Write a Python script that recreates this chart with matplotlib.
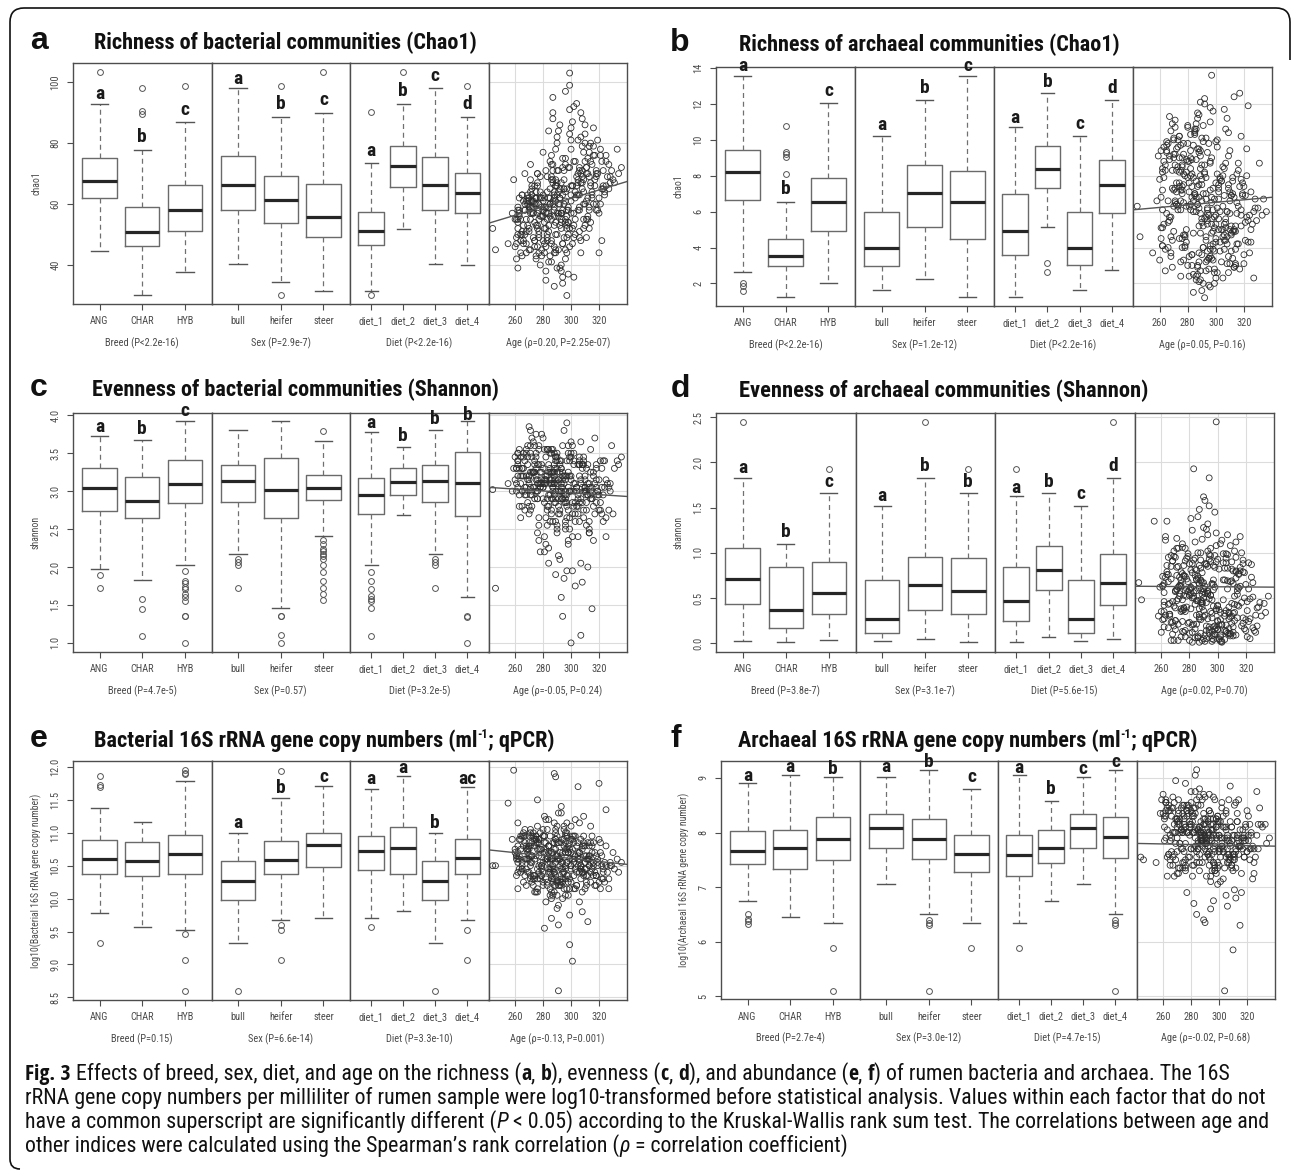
import os
import numpy as np
import matplotlib
matplotlib.use('Agg')
import matplotlib.pyplot as plt
from matplotlib import font_manager
from matplotlib.font_manager import FontProperties
from matplotlib.path import Path
from matplotlib.patches import PathPatch

W, H = 1292, 1170

# ------------------------------------------------------------------
# Dane
# ------------------------------------------------------------------
breeds = ['ANG', 'CHAR', 'HYB']
sexes = ['bull', 'heifer', 'steer']
diets = ['diet_1', 'diet_2', 'diet_3', 'diet_4']
age_ticks = [260, 280, 300, 320]
fit_x = [241, 340]

# wiek zwierzat (wspolny dla wszystkich paneli)
ages = [288, 301, 276, 295, 310, 283, 292, 268, 299, 285,
        304, 279, 290, 296, 272, 287, 308, 281, 294, 300,
        265, 289, 302, 277, 293, 284, 312, 297, 274, 291,
        306, 286, 280, 298, 316, 270, 294, 289, 303, 278,
        292, 261, 299, 285, 307, 282, 296, 275, 290, 314,
        283, 301, 288, 267, 295, 305, 279, 293, 318, 286,
        297, 273, 291, 309, 284, 300, 276, 288, 322, 294,
        281, 303, 262, 290, 298, 287, 311, 277, 295, 285,
        302, 289, 271, 296, 280, 306, 292, 259, 299, 284,
        313, 287, 294, 278, 301, 291, 269, 304, 286, 297,
        282, 325, 293, 288, 275, 300, 310, 283, 296, 290,
        305, 279, 298, 286, 264, 292, 315, 289, 281, 302,
        294, 274, 287, 308, 297, 283, 329, 291, 277, 299,
        246, 288, 303, 285, 320, 293, 271, 296, 282, 307,
        290, 333, 280, 298, 255, 287, 312, 244, 327, 336,
        266, 284, 309, 293, 277, 318, 289, 272, 301, 296,
        283, 262, 307, 290, 314, 280, 298, 269, 286, 305,
        292, 275, 321, 288, 300, 263, 295, 282, 311, 278,
        297, 287, 270, 303, 285, 324, 291, 276, 308, 293,
        279, 306, 289, 258, 296, 283, 317, 273, 299, 288,
        302, 271, 294, 286, 313, 281, 290, 267, 304, 298,
        285, 311, 277, 295, 289, 328, 274, 300, 282, 292,
        268, 299, 287, 316, 280, 293, 305, 286, 262, 301,
        294, 283, 309, 276, 290, 297, 271, 319, 288, 284,
        306, 278, 292, 300, 265, 287, 312, 281, 296, 331,
        289, 274, 302, 285, 296, 279, 308, 293, 270, 299,
        282, 315, 288, 260, 304, 291, 277, 297, 286, 310,
        298, 284, 272, 307, 290, 281, 294, 323, 276, 302,
        287, 303, 280, 295, 269, 313, 289, 284, 300, 278,
        293, 261, 305, 288, 282, 297, 275, 317, 291, 334,
        262, 318, 270, 325, 266, 312, 273, 309, 264, 321,
        315, 268, 306, 271, 327, 263, 311, 275, 319, 269,
        272, 308, 261, 323, 267, 314, 274, 330, 265, 310,
        320, 264, 313, 270, 305, 276, 326, 262, 316, 273,
        267, 311, 275, 318, 260, 307, 271, 322, 266, 313,
        309, 273, 324, 263, 314, 269, 306, 276, 328, 265,
        270, 317, 262, 310, 274, 321, 268, 312, 272, 308,
        319, 266, 307, 275, 325, 264, 315, 271, 310, 263,
        274, 313, 268, 320, 261, 309, 276, 316, 267, 323,
        311, 272, 318, 265, 306, 277, 314, 262, 322, 270]

# kolejnosc grup: ANG CHAR HYB bull heifer steer diet_1..diet_4
# [dolny wasik, Q1, mediana, Q3, gorny wasik]
a_box = [[44.5, 61.9, 67.6, 75.2, 92.8], [30.3, 46.1, 50.7, 59.0, 77.7], [37.8, 51.3, 58.1, 66.1, 86.9],
         [40.3, 57.9, 66.3, 75.7, 98.0], [34.4, 53.7, 61.4, 69.2, 88.7], [31.6, 49.2, 55.9, 66.5, 89.9],
         [31.6, 46.5, 51.3, 57.5, 73.6], [51.8, 65.5, 72.6, 79.2, 92.8], [40.3, 58.1, 66.3, 75.6, 98.0],
         [39.9, 57.2, 63.6, 70.1, 88.7]]
a_out = [[103.3], [98.0, 90.5, 89.7], [98.7], [], [98.7, 30.3], [103.3], [90.1, 30.3], [103.3], [], [98.7]]
a_let = ['a', 'b', 'c', 'a', 'b', 'c', 'a', 'b', 'c', 'd']
a_let_y = [96.0, 82.1, 91.0, 101.0, 92.8, 94.1, 77.4, 97.2, 102.0, 92.8]
a_vals = [58, 66, 52, 71, 74, 49, 62, 55, 83, 60,
          69, 45, 57, 64, 61, 73, 88, 54, 47, 78,
          63, 50, 92, 58, 67, 41, 70, 56, 66, 60,
          63, 76, 48, 59, 85, 51, 36, 68, 55, 62,
          53, 47, 72, 65, 44, 57, 97, 43, 80, 66,
          64, 52, 46, 70, 60, 81, 59, 38, 71, 55,
          65, 57, 71, 52, 84, 61, 67, 33, 48, 58,
          52, 74, 58, 63, 50, 88, 61, 49, 68, 43,
          57, 66, 45, 54, 77, 49, 62, 68, 103, 51,
          58, 60, 75, 40, 47, 56, 62, 93, 69, 30,
          71, 74, 55, 64, 53, 66, 80, 57, 42, 50,
          70, 62, 58, 48, 44, 86, 62, 54, 59, 36,
          63, 48, 90, 67, 53, 69, 71, 45, 60, 99,
          45, 59, 64, 56, 44, 52, 73, 61, 38, 82,
          67, 78, 63, 72, 47, 95, 55, 52, 65, 72,
          48, 62, 77, 57, 51, 69, 44, 59, 66, 73,
          55, 50, 70, 39, 80, 61, 54, 63, 47, 67,
          60, 42, 76, 53, 85, 58, 65, 35, 72, 56,
          49, 68, 52, 62, 74, 64, 57, 46, 79, 40,
          56, 71, 61, 57, 45, 50, 68, 59, 91, 63,
          53, 64, 47, 73, 59, 44, 82, 58, 66, 37,
          62, 70, 55, 49, 78, 69, 60, 57, 52, 65,
          51, 46, 67, 76, 58, 54, 63, 41, 55, 87,
          72, 48, 60, 53, 66, 44, 59, 70, 62, 57,
          58, 64, 39, 81, 50, 71, 62, 47, 55, 67,
          66, 54, 49, 60, 75, 43, 69, 57, 61, 52,
          46, 73, 56, 55, 63, 84, 50, 58, 68, 60,
          54, 59, 66, 48, 71, 62, 34, 66, 57, 74,
          61, 50, 56, 65, 60, 79, 45, 53, 63, 69,
          57, 49, 68, 44, 59, 52, 62, 76, 64, 70,
          52, 70, 58, 66, 47, 75, 61, 55, 50, 78,
          64, 44, 59, 68, 73, 56, 49, 62, 81, 53,
          57, 65, 42, 71, 60, 54, 48, 68, 63, 86,
          62, 55, 77, 45, 58, 66, 69, 39, 60, 57,
          50, 72, 64, 58, 46, 90, 55, 65, 61, 52,
          68, 49, 63, 57, 74, 61, 51, 70, 67, 43,
          59, 66, 54, 83, 62, 60, 47, 56, 65, 71,
          58, 53, 67, 60, 76, 48, 63, 57, 53, 62,
          46, 69, 61, 57, 55, 64, 70, 79, 58, 65,
          55, 63, 60, 51, 72, 44, 67, 59, 74, 62]
a_fit = [53.7, 67.4]

b_box = [[2.65, 6.64, 8.20, 9.42, 13.54], [1.22, 2.98, 3.52, 4.49, 6.56], [2.00, 4.91, 6.54, 7.90, 12.05],
         [1.63, 2.98, 4.00, 5.99, 10.24], [2.22, 5.12, 7.05, 8.58, 12.20], [1.22, 4.50, 6.54, 8.27, 13.54],
         [1.22, 3.56, 4.91, 6.99, 10.72], [5.15, 7.29, 8.40, 9.66, 12.63], [1.63, 3.02, 4.00, 5.99, 10.24],
         [2.74, 5.93, 7.47, 8.86, 12.20]]
b_out = [[2.04, 1.85, 1.59], [10.75, 9.33, 9.20, 9.05, 8.12], [], [], [], [], [], [3.11, 2.65], [], []]
b_let = ['a', 'b', 'c', 'a', 'b', 'c', 'a', 'b', 'c', 'd']
b_let_y = [14.1, 7.27, 12.7, 10.8, 12.9, 14.1, 11.2, 13.2, 10.9, 12.9]
b_vals = [6.2, 8.1, 4.5, 9.8, 3.1, 7.4, 5.6, 10.5, 2.8, 6.9,
          7.7, 5.0, 3.6, 8.8, 6.4, 11.2, 4.2, 7.1, 9.3, 2.3,
          5.9, 8.4, 6.7, 3.3, 10.1, 4.8, 7.9, 5.3, 9.0, 2.0,
          4.4, 6.8, 10.7, 3.9, 8.3, 7.2, 5.5, 12.1, 6.0, 4.1,
          8.6, 9.4, 2.6, 7.0, 5.1, 10.3, 3.5, 6.6, 7.8, 4.9,
          3.0, 9.6, 7.5, 5.7, 1.9, 8.0, 6.3, 4.6, 5.2, 8.9,
          6.5, 10.0, 4.0, 7.3, 2.5, 5.8, 8.5, 3.7, 9.5, 6.1,
          7.6, 4.3, 8.2, 5.4, 11.6, 2.9, 6.9, 9.2, 3.4, 7.0,
          5.0, 2.2, 6.6, 8.7, 10.8, 4.7, 1.2, 9.1, 3.8, 6.0,
          12.4, 7.4, 5.3, 4.0, 6.2, 9.9, 8.3, 3.2, 10.6, 5.6,
          8.0, 5.0, 2.7, 6.8, 9.7, 4.5, 7.1, 3.6, 11.0, 1.6,
          6.3, 8.9, 4.2, 7.7, 3.9, 12.0, 5.9, 9.4, 2.4, 7.3,
          3.3, 10.2, 6.4, 4.6, 13.6, 8.1, 5.5, 7.0, 9.8, 2.0,
          4.6, 5.2, 7.9, 10.4, 3.1, 6.7, 8.6, 1.8, 9.0, 4.4,
          7.5, 5.8, 3.0, 6.1, 3.7, 11.5, 4.9, 6.3, 2.3, 6.0,
          5.4, 7.9, 9.1, 3.2, 6.5, 10.2, 4.8, 8.3, 2.6, 7.2,
          6.8, 4.1, 8.7, 5.6, 3.9, 9.8, 7.3, 2.9, 10.9, 5.0,
          8.2, 6.1, 4.4, 11.4, 7.6, 5.3, 3.4, 9.4, 6.9, 4.7,
          9.0, 2.5, 6.3, 7.8, 10.5, 5.8, 4.0, 8.6, 3.1, 7.0,
          4.3, 8.4, 5.9, 6.6, 11.8, 3.6, 7.4, 9.6, 5.1, 2.1,
          7.1, 9.2, 3.8, 6.0, 4.9, 8.8, 10.1, 5.5, 7.7, 3.3,
          10.6, 5.2, 7.5, 2.8, 8.0, 6.2, 4.5, 9.9, 6.4, 12.3,
          3.7, 6.7, 9.5, 4.2, 7.9, 5.7, 8.5, 2.4, 6.1, 10.0,
          5.9, 8.9, 3.5, 7.2, 6.6, 4.8, 11.1, 7.6, 9.3, 1.5,
          6.9, 4.6, 8.1, 5.3, 9.7, 3.0, 7.0, 6.3, 4.1, 8.7,
          2.7, 7.4, 5.6, 10.3, 3.9, 8.2, 6.0, 4.4, 9.0, 5.7,
          8.4, 6.5, 3.2, 7.8, 5.0, 10.8, 4.7, 6.8, 2.2, 9.4,
          4.9, 9.7, 7.1, 5.4, 8.6, 3.5, 6.2, 11.9, 4.0, 7.5,
          6.4, 3.8, 8.8, 5.8, 7.3, 2.9, 9.1, 6.6, 4.3, 8.0,
          7.9, 5.1, 4.6, 9.5, 6.1, 3.4, 8.3, 12.6, 5.2, 6.7,
          5.1, 7.8, 9.2, 4.3, 6.6, 3.4, 8.5, 10.4, 2.7, 6.9,
          8.1, 5.7, 3.9, 7.3, 6.0, 9.6, 4.8, 2.4, 7.0, 10.9,
          6.4, 11.2, 4.5, 5.5, 8.9, 3.1, 7.6, 6.2, 9.9, 5.0,
          3.6, 8.3, 6.8, 10.0, 2.3, 7.4, 5.3, 4.1, 8.7, 6.1,
          9.1, 4.7, 7.2, 5.8, 3.3, 10.6, 6.5, 8.0, 4.0, 2.9,
          7.5, 6.3, 3.7, 8.8, 5.2, 4.4, 11.7, 7.0, 6.7, 9.3,
          4.9, 2.8, 8.4, 6.6, 10.2, 5.4, 3.5, 7.7, 9.5, 6.0,
          6.9, 9.8, 5.6, 3.2, 7.1, 8.6, 4.2, 10.7, 5.9, 7.9,
          8.2, 5.0, 4.6, 7.4, 6.8, 2.6, 9.0, 6.3, 11.3, 4.3,
          3.8, 7.6, 6.1, 9.4, 5.3, 8.1, 3.0, 7.2, 5.7, 10.1]
b_fit = [6.1, 6.8]

c_box = [[1.98, 2.74, 3.04, 3.30, 3.73], [1.83, 2.65, 2.87, 3.18, 3.67], [2.03, 2.85, 3.09, 3.41, 3.92],
         [2.17, 2.86, 3.14, 3.34, 3.80], [1.46, 2.64, 3.02, 3.44, 3.92], [2.41, 2.88, 3.04, 3.21, 3.66],
         [2.03, 2.70, 2.95, 3.17, 3.78], [2.69, 2.95, 3.12, 3.30, 3.58], [2.17, 2.86, 3.13, 3.34, 3.80],
         [1.60, 2.67, 3.11, 3.51, 3.92]]
c_out = [[1.89, 1.73], [1.58, 1.45, 1.09],
         [1.95, 1.82, 1.79, 1.74, 1.71, 1.64, 1.60, 1.55, 1.35, 1.35, 1.0],
         [2.10, 2.07, 2.03, 1.73], [1.35, 1.35, 1.10, 1.0],
         [3.79, 2.36, 2.31, 2.24, 2.21, 2.17, 2.14, 2.10, 2.03, 1.93, 1.82, 1.72, 1.64, 1.56],
         [1.94, 1.82, 1.71, 1.62, 1.58, 1.55, 1.46, 1.09], [], [2.10, 2.07, 2.03, 1.73], [1.36, 1.34, 1.0]]
c_let = ['a', 'b', 'c', '', '', '', 'a', 'b', 'b', 'b']
c_let_y = [3.85, 3.82, 4.05, 0, 0, 0, 3.90, 3.73, 3.95, 4.01]
c_vals = [3.10, 2.85, 3.35, 2.95, 3.20, 3.55, 2.70, 3.05, 3.40, 2.60,
          3.00, 3.25, 2.45, 3.15, 3.70, 2.90, 3.30, 2.20, 3.05, 3.50,
          2.80, 3.45, 3.10, 2.55, 3.00, 3.25, 2.95, 1.95, 3.60, 3.15,
          3.35, 2.75, 3.05, 2.35, 3.20, 3.85, 2.90, 3.40, 1.75, 3.10,
          3.00, 3.30, 2.65, 3.50, 2.05, 3.15, 2.85, 3.75, 3.25, 2.95,
          3.55, 2.40, 3.10, 3.00, 3.80, 2.70, 3.35, 1.60, 3.05, 2.90,
          3.20, 3.65, 2.80, 3.00, 2.25, 3.45, 3.15, 2.95, 3.30, 1.35,
          2.85, 3.10, 3.40, 2.50, 3.25, 3.00, 2.75, 3.55, 1.85, 3.15,
          3.35, 2.60, 3.05, 2.95, 3.70, 3.20, 2.10, 3.30, 3.00, 2.80,
          2.45, 3.10, 3.60, 3.25, 1.95, 2.90, 3.45, 3.05, 2.70, 3.90,
          3.15, 2.40, 3.30, 2.85, 3.50, 1.00, 3.05, 3.20, 2.55, 3.40,
          2.95, 3.75, 2.30, 3.10, 2.65, 3.35, 1.45, 3.00, 3.55, 2.80,
          3.25, 2.90, 3.05, 1.80, 3.40, 2.75, 3.60, 3.15, 2.35, 3.00,
          1.72, 3.50, 2.85, 3.10, 2.95, 3.30, 3.80, 2.60, 3.20, 1.10,
          3.45, 3.40, 2.90, 3.05, 3.10, 3.25, 2.00, 3.02, 2.75, 3.45,
          3.20, 2.95, 3.45, 3.05, 2.65, 3.30, 3.15, 2.80, 3.60, 3.00,
          2.90, 3.35, 3.10, 2.55, 3.25, 3.05, 3.50, 2.85, 3.15, 2.40,
          3.40, 3.00, 2.75, 3.20, 3.65, 2.95, 3.10, 2.30, 3.30, 3.05,
          2.85, 3.55, 3.15, 2.70, 3.25, 3.40, 2.15, 3.00, 3.35, 2.90,
          3.10, 2.60, 3.45, 3.00, 3.20, 2.80, 3.70, 3.05, 2.50, 3.35,
          3.00, 3.25, 2.90, 3.50, 2.45, 3.15, 3.30, 2.75, 3.05, 3.60,
          3.30, 2.85, 3.10, 3.20, 1.90, 3.00, 3.40, 3.15, 2.65, 3.25,
          2.95, 3.45, 3.05, 2.35, 3.30, 3.10, 2.90, 3.55, 3.20, 2.70,
          3.15, 2.55, 3.35, 3.00, 3.10, 2.80, 3.50, 2.95, 3.25, 2.05,
          3.40, 3.05, 2.75, 3.20, 3.00, 2.60, 3.35, 3.10, 2.90, 3.30,
          2.85, 3.25, 3.50, 2.95, 2.50, 3.15, 3.05, 3.40, 2.70, 3.20,
          3.10, 2.90, 3.30, 3.45, 2.80, 3.00, 3.60, 2.65, 3.25, 3.05,
          2.75, 3.35, 3.00, 3.15, 3.50, 2.40, 3.20, 2.95, 3.10, 3.40,
          3.25, 2.60, 3.10, 2.85, 3.35, 3.05, 2.90, 3.55, 3.00, 2.20,
          3.00, 3.30, 2.80, 3.15, 3.45, 2.95, 3.20, 3.10, 2.70, 3.35,
          3.05, 3.35, 2.80, 3.15, 3.50, 2.95, 3.25, 2.65, 3.10, 3.40,
          2.90, 3.20, 3.45, 2.75, 3.05, 3.30, 2.55, 3.15, 3.00, 3.60,
          3.25, 2.85, 3.10, 3.40, 2.95, 3.55, 3.05, 2.70, 3.30, 3.00,
          3.15, 3.45, 2.60, 3.20, 3.35, 2.90, 3.10, 3.50, 2.80, 3.25,
          3.40, 3.00, 3.30, 2.85, 3.15, 3.65, 2.95, 3.05, 3.45, 2.50,
          2.75, 3.25, 3.05, 3.55, 2.90, 3.15, 3.35, 2.45, 3.10, 3.30,
          3.20, 2.70, 3.40, 3.00, 3.25, 2.85, 3.50, 3.10, 2.95, 3.35,
          3.00, 3.30, 2.90, 3.45, 2.65, 3.20, 3.05, 3.60, 3.15, 2.80,
          3.35, 3.10, 3.55, 2.75, 3.00, 3.40, 2.90, 3.25, 3.05, 2.60,
          2.95, 3.45, 3.15, 3.20, 2.85, 3.35, 3.00, 3.50, 2.70, 3.10]
c_fit = [3.05, 2.93]

d_box = [[0.02, 0.43, 0.71, 1.05, 1.83], [0.01, 0.17, 0.37, 0.84, 1.10], [0.04, 0.32, 0.56, 0.90, 1.66],
         [0.02, 0.11, 0.27, 0.70, 1.52], [0.05, 0.37, 0.64, 0.95, 1.83], [0.01, 0.32, 0.58, 0.94, 1.66],
         [0.01, 0.25, 0.47, 0.84, 1.63], [0.07, 0.59, 0.81, 1.08, 1.66], [0.02, 0.11, 0.27, 0.70, 1.52],
         [0.05, 0.42, 0.67, 0.99, 1.83]]
d_out = [[2.45], [], [1.93], [], [2.45], [1.93], [1.93], [], [], [2.45]]
d_let = ['a', 'b', 'c', 'a', 'b', 'b', 'a', 'b', 'c', 'd']
d_let_y = [1.94, 1.23, 1.78, 1.63, 1.96, 1.78, 1.72, 1.78, 1.65, 1.96]
d_vals = [0.45, 0.82, 0.12, 1.05, 0.30, 0.64, 0.05, 0.91, 0.38, 0.58,
          0.70, 0.22, 1.28, 0.48, 0.03, 0.86, 0.33, 0.61, 1.52, 0.15,
          0.95, 0.40, 0.07, 0.74, 0.27, 1.12, 0.52, 0.18, 0.66, 0.88,
          0.36, 1.40, 0.59, 0.10, 0.80, 0.25, 0.98, 0.44, 0.02, 0.71,
          0.14, 0.63, 0.90, 0.31, 1.20, 0.50, 0.08, 0.77, 1.62, 0.42,
          0.56, 0.20, 1.00, 0.85, 0.35, 0.04, 0.68, 1.32, 0.28, 0.47,
          0.09, 0.73, 0.55, 1.08, 0.16, 0.93, 0.39, 0.26, 0.60, 1.83,
          0.81, 0.01, 0.46, 0.67, 1.45, 0.32, 0.12, 0.58, 0.97, 0.21,
          0.34, 1.15, 0.75, 0.05, 0.53, 0.89, 0.19, 0.62, 2.45, 0.43,
          0.72, 0.29, 0.11, 0.94, 0.37, 1.58, 1.02, 0.48, 0.06, 0.65,
          1.25, 0.17, 0.57, 0.83, 0.24, 0.41, 0.69, 1.93, 0.13, 0.50,
          0.30, 0.99, 0.62, 0.08, 1.35, 0.45, 0.76, 0.03, 0.54, 1.10,
          0.15, 0.63, 1.48, 0.27, 0.86, 0.52, 0.40, 0.02, 1.05, 0.36,
          0.48, 0.92, 0.21, 0.70, 0.14, 1.20, 0.60, 0.33, 0.78, 0.11,
          0.57, 0.44, 0.88, 0.19, 1.35, 0.66, 0.25, 0.67, 0.31, 0.52,
          0.32, 0.75, 0.10, 0.58, 0.91, 0.22, 0.44, 1.05, 0.05, 0.66,
          0.50, 0.18, 0.83, 0.29, 0.62, 0.03, 0.97, 0.41, 0.72, 0.14,
          0.88, 0.36, 0.07, 0.69, 0.25, 1.18, 0.53, 0.12, 0.80, 0.40,
          0.04, 0.61, 0.95, 0.20, 0.47, 0.73, 0.09, 0.86, 0.34, 1.02,
          0.57, 0.13, 0.78, 0.30, 0.02, 0.92, 0.45, 0.64, 0.17, 0.70,
          0.26, 0.84, 0.49, 0.06, 1.12, 0.38, 0.60, 0.23, 0.99, 0.15,
          0.71, 0.08, 0.35, 0.90, 0.54, 0.19, 0.79, 0.42, 0.01, 1.26,
          0.46, 1.08, 0.27, 0.63, 0.11, 0.85, 0.33, 0.74, 0.56, 0.04,
          0.93, 0.21, 0.68, 0.39, 0.05, 0.59, 1.16, 0.16, 0.48, 0.82,
          0.13, 0.52, 0.87, 0.24, 0.76, 0.01, 0.43, 1.38, 0.65, 0.30,
          0.67, 0.35, 0.02, 0.81, 0.28, 0.96, 0.10, 0.55, 0.39, 1.22,
          0.20, 0.77, 0.58, 0.12, 0.89, 0.31, 0.07, 0.70, 1.00, 0.44,
          0.84, 0.06, 0.49, 0.98, 0.36, 0.62, 0.18, 0.27, 0.74, 0.09,
          0.38, 1.14, 0.23, 0.53, 0.03, 0.79, 0.46, 0.94, 0.15, 0.60,
          0.55, 0.26, 0.70, 0.11, 0.88, 0.41, 1.06, 0.19, 0.63, 0.34,
          0.42, 0.88, 0.15, 0.67, 0.30, 1.02, 0.55, 0.08, 0.79, 0.36,
          0.61, 0.23, 0.94, 0.47, 0.12, 0.73, 0.33, 1.10, 0.50, 0.19,
          0.85, 0.40, 0.64, 0.05, 0.97, 0.28, 0.70, 0.45, 0.17, 0.90,
          0.26, 0.76, 0.09, 0.58, 0.83, 0.37, 0.14, 0.66, 1.18, 0.52,
          0.71, 0.18, 0.48, 0.92, 0.35, 0.60, 1.05, 0.24, 0.44, 0.80,
          0.11, 0.63, 0.87, 0.31, 0.54, 0.96, 0.20, 0.75, 0.39, 0.68,
          0.57, 1.00, 0.27, 0.82, 0.07, 0.46, 0.91, 0.34, 0.62, 0.16,
          0.78, 0.32, 0.69, 0.13, 0.51, 0.86, 0.41, 0.59, 0.22, 1.14,
          0.38, 0.95, 0.10, 0.65, 0.74, 0.29, 0.53, 0.84, 0.03, 0.49,
          0.66, 0.21, 0.79, 0.43, 0.99, 0.14, 0.58, 0.35, 0.89, 0.25]
d_fit = [0.63, 0.62]

e_box = [[9.78, 10.37, 10.60, 10.89, 11.38], [9.57, 10.35, 10.57, 10.86, 11.17], [9.53, 10.37, 10.67, 10.96, 11.79],
         [9.32, 9.98, 10.26, 10.57, 11.00], [9.67, 10.37, 10.59, 10.87, 11.53], [9.70, 10.48, 10.81, 11.00, 11.71],
         [9.70, 10.44, 10.73, 10.95, 11.66], [9.81, 10.37, 10.77, 11.09, 11.86], [9.32, 9.98, 10.26, 10.57, 11.00],
         [9.67, 10.38, 10.62, 10.91, 11.69]]
e_out = [[11.86, 11.72, 11.69, 9.32], [], [11.95, 11.91, 11.89, 9.46, 9.06, 8.59], [8.59],
         [11.94, 9.60, 9.53, 9.06], [], [9.57], [], [8.59], [9.53, 9.06]]
e_let = ['', '', '', 'a', 'b', 'c', 'a', 'a', 'b', 'ac']
e_let_y = [0, 0, 0, 11.15, 11.68, 11.85, 11.81, 11.99, 11.15, 11.82]
e_vals = [10.45, 10.90, 10.30, 11.05, 10.65, 10.55, 10.20, 10.75, 10.60, 10.95,
          10.80, 10.35, 11.10, 10.50, 10.65, 10.05, 10.40, 10.85, 10.25, 10.70,
          10.55, 10.75, 10.15, 10.90, 11.30, 10.45, 10.85, 10.35, 10.60, 9.90,
          11.15, 10.60, 10.20, 10.80, 10.50, 10.95, 10.40, 11.00, 10.65, 10.30,
          10.70, 10.35, 9.75, 10.55, 10.90, 11.20, 10.45, 10.10, 10.65, 10.85,
          10.25, 10.60, 10.85, 11.05, 10.15, 10.50, 10.75, 11.40, 10.35, 10.00,
          10.55, 10.20, 9.60, 11.25, 10.70, 10.90, 11.50, 10.40, 10.65, 10.30,
          10.95, 10.45, 10.80, 10.05, 10.70, 10.60, 10.25, 10.85, 11.10, 10.40,
          10.35, 11.85, 10.50, 10.75, 10.25, 9.95, 10.60, 11.95, 9.30, 10.80,
          10.65, 10.45, 10.90, 10.55, 9.05, 10.20, 10.75, 10.40, 10.10, 11.00,
          10.30, 11.35, 10.65, 11.90, 10.85, 10.45, 10.15, 10.60, 10.95, 9.85,
          11.70, 10.50, 10.25, 10.70, 10.95, 10.35, 10.80, 10.55, 9.55, 10.60,
          10.45, 10.90, 10.65, 9.80, 10.15, 11.05, 10.50, 8.60, 10.40, 10.75,
          10.50, 10.20, 11.20, 10.60, 11.75, 10.85, 10.35, 10.05, 10.70, 10.45,
          10.95, 10.60, 10.40, 10.70, 11.45, 10.25, 9.65, 10.50, 10.15, 10.55,
          10.80, 10.40, 10.95, 10.20, 10.65, 10.35, 11.05, 10.55, 10.75, 10.30,
          10.60, 10.15, 10.45, 10.85, 11.10, 10.95, 10.05, 10.70, 10.35, 10.65,
          10.25, 10.90, 10.70, 11.15, 10.50, 10.45, 10.80, 9.95, 10.60, 10.35,
          10.75, 10.30, 10.60, 10.95, 10.45, 10.25, 11.30, 10.85, 10.10, 10.55,
          10.50, 10.70, 10.20, 10.90, 10.85, 10.65, 10.40, 11.00, 10.30, 10.75,
          10.95, 10.55, 10.00, 10.45, 10.80, 11.25, 10.60, 10.35, 10.20, 10.70,
          10.15, 10.65, 10.75, 10.40, 10.90, 10.55, 10.30, 11.10, 10.85, 10.50,
          10.60, 10.85, 10.50, 10.35, 11.05, 10.25, 10.70, 9.70, 10.40, 10.95,
          10.55, 10.20, 10.80, 10.45, 10.65, 10.95, 10.30, 10.60, 10.10, 11.20,
          10.40, 10.75, 10.60, 10.25, 10.50, 10.85, 10.35, 10.70, 11.00, 10.45,
          10.90, 10.35, 10.55, 10.05, 10.70, 10.45, 10.80, 10.30, 10.65, 10.15,
          10.60, 10.95, 10.40, 10.75, 10.20, 10.85, 10.50, 11.15, 10.30, 10.55,
          10.35, 10.80, 10.65, 10.50, 10.25, 10.95, 10.70, 10.45, 10.10, 10.85,
          10.70, 10.15, 10.55, 10.90, 10.40, 10.60, 10.35, 10.80, 10.50, 11.00,
          10.45, 10.65, 10.85, 10.30, 10.75, 10.55, 10.95, 10.20, 10.60, 10.40,
          10.70, 10.35, 10.85, 10.50, 10.25, 10.60, 10.95, 10.40, 10.75, 10.15,
          10.45, 10.80, 10.55, 11.05, 10.30, 10.65, 10.20, 10.90, 10.50, 10.60,
          10.95, 10.40, 10.65, 10.30, 10.85, 10.55, 10.10, 10.70, 10.45, 10.80,
          10.25, 10.90, 10.50, 10.75, 10.60, 11.10, 10.40, 10.55, 10.85, 10.35,
          10.60, 10.45, 10.95, 10.20, 10.70, 10.50, 10.80, 10.30, 11.00, 10.65,
          10.85, 10.30, 10.55, 10.90, 10.40, 10.75, 10.60, 10.15, 10.50, 10.95,
          10.40, 10.70, 11.15, 10.55, 10.35, 10.85, 10.45, 10.60, 10.25, 10.75,
          10.55, 10.95, 10.30, 10.65, 10.80, 10.40, 10.70, 11.00, 10.45, 10.60,
          10.80, 10.50, 10.20, 10.90, 10.60, 10.35, 10.75, 10.55, 10.95, 10.40,
          10.35, 10.85, 10.65, 10.45, 10.70, 10.90, 10.25, 10.60, 10.50, 10.80]
e_fit = [10.74, 10.52]

f_box = [[6.74, 7.43, 7.66, 8.03, 8.91], [6.45, 7.33, 7.72, 8.05, 9.06], [6.35, 7.49, 7.88, 8.28, 9.02],
         [7.05, 7.72, 8.08, 8.33, 9.02], [6.51, 7.51, 7.88, 8.24, 9.15], [6.35, 7.27, 7.61, 7.96, 8.80],
         [6.35, 7.21, 7.58, 7.96, 9.06], [6.74, 7.45, 7.72, 8.05, 8.57], [7.05, 7.72, 8.08, 8.33, 9.02],
         [6.51, 7.54, 7.92, 8.29, 9.15]]
f_out = [[6.51, 6.42, 6.38, 6.33], [], [5.88, 5.10], [], [6.39, 6.35, 6.31, 5.10], [5.88], [5.88], [], [],
         [6.39, 6.35, 6.31, 5.10]]
f_let = ['a', 'a', 'b', 'a', 'b', 'c', 'a', 'b', 'c', 'c']
f_let_y = [9.03, 9.20, 9.17, 9.20, 9.29, 9.02, 9.19, 8.79, 9.17, 9.29]
f_vals = [7.85, 8.20, 7.40, 8.05, 7.60, 8.45, 7.95, 7.20, 8.30, 7.70,
          8.10, 7.55, 7.90, 8.65, 7.35, 8.00, 7.75, 8.35, 7.10, 7.95,
          7.50, 8.15, 7.80, 6.90, 8.40, 7.65, 8.55, 7.30, 8.00, 7.85,
          7.95, 7.45, 8.75, 8.10, 7.25, 7.90, 8.25, 6.40, 7.70, 8.50,
          7.60, 8.30, 7.05, 7.85, 8.60, 8.00, 7.45, 8.15, 6.35, 7.75,
          8.35, 7.70, 8.05, 7.55, 7.90, 6.85, 8.20, 7.40, 7.95, 8.80,
          7.30, 8.45, 7.80, 8.10, 6.50, 7.65, 8.90, 7.90, 8.15, 7.50,
          8.00, 7.15, 8.55, 7.70, 8.25, 7.85, 6.95, 8.40, 7.60, 8.05,
          7.75, 8.70, 7.35, 7.95, 8.15, 6.65, 8.00, 8.60, 7.45, 9.15,
          8.20, 7.90, 6.60, 8.35, 7.55, 7.80, 8.95, 5.10, 8.10, 7.65,
          8.30, 7.25, 8.00, 7.85, 8.50, 7.40, 5.85, 8.05, 7.70, 8.25,
          7.55, 8.10, 7.95, 8.65, 7.60, 7.75, 6.30, 8.35, 7.20, 7.90,
          8.05, 7.45, 8.20, 8.85, 7.80, 9.05, 8.45, 7.65, 8.00, 7.35,
          7.50, 7.95, 8.10, 7.70, 8.40, 7.85, 8.60, 8.15, 6.70, 7.60,
          7.80, 8.15, 7.70, 7.90, 7.45, 8.50, 6.80, 7.55, 8.75, 7.90,
          7.65, 8.10, 7.35, 7.95, 8.40, 7.55, 8.25, 7.80, 7.10, 8.05,
          7.90, 8.30, 7.50, 8.15, 7.75, 8.55, 7.25, 8.00, 7.60, 8.35,
          8.20, 7.45, 7.85, 8.60, 7.70, 8.05, 7.30, 8.45, 7.95, 7.55,
          7.40, 8.00, 8.25, 7.65, 8.50, 7.15, 7.90, 8.10, 7.80, 8.70,
          8.15, 7.60, 7.95, 8.35, 7.45, 8.75, 8.05, 7.70, 8.30, 7.85,
          7.75, 8.40, 7.20, 8.00, 7.90, 8.20, 7.55, 8.65, 7.35, 8.10,
          8.05, 7.50, 8.30, 7.85, 8.15, 7.70, 8.50, 7.95, 7.40, 8.25,
          7.60, 8.20, 7.80, 6.90, 8.40, 7.65, 8.05, 7.30, 8.55, 7.90,
          8.35, 7.75, 8.10, 7.50, 7.95, 8.60, 7.25, 8.15, 7.85, 7.45,
          7.85, 8.45, 7.60, 8.20, 7.40, 8.00, 7.70, 8.30, 6.75, 8.10,
          8.00, 7.35, 8.55, 7.80, 8.25, 7.95, 7.55, 8.40, 7.65, 8.15,
          7.70, 8.05, 7.45, 8.35, 7.90, 7.20, 8.50, 7.75, 8.10, 7.60,
          8.25, 7.55, 8.00, 7.85, 8.65, 7.40, 8.15, 7.95, 7.30, 8.45,
          7.95, 8.30, 7.70, 8.05, 7.50, 8.20, 7.85, 8.60, 7.65, 8.00,
          7.55, 8.10, 8.40, 7.75, 8.00, 7.35, 8.25, 7.90, 8.15, 7.80,
          7.90, 7.55, 8.20, 7.70, 8.45, 7.35, 8.05, 7.85, 7.60, 8.30,
          7.75, 8.15, 7.45, 8.35, 7.95, 7.20, 8.50, 7.65, 8.10, 7.80,
          8.25, 7.50, 7.85, 8.00, 7.40, 8.60, 7.70, 8.15, 7.95, 7.30,
          7.65, 8.40, 7.95, 7.25, 8.10, 7.80, 7.55, 8.55, 7.75, 8.05,
          8.00, 7.60, 8.30, 7.85, 8.70, 7.45, 8.20, 7.70, 7.90, 8.35,
          7.40, 8.05, 7.75, 8.45, 7.60, 8.25, 7.90, 7.35, 8.15, 7.85,
          8.10, 7.70, 8.40, 7.50, 8.00, 7.95, 8.55, 7.65, 7.80, 8.20,
          7.85, 8.30, 7.60, 8.05, 7.45, 8.50, 7.75, 8.15, 7.95, 7.55,
          8.35, 7.80, 8.00, 7.65, 8.25, 7.40, 8.10, 7.90, 8.45, 7.70,
          7.55, 8.15, 7.90, 8.40, 7.70, 8.00, 7.85, 8.60, 7.50, 8.25]
f_fit = [7.80, 7.75]

# ------------------------------------------------------------------
# Czcionki (waskie, jesli sa dostepne)
# ------------------------------------------------------------------
def find_narrow(prefs, bold=False, italic=False):
    best, best_rank = None, 99
    for f in font_manager.fontManager.ttflist:
        nm = f.name.lower()
        fn = os.path.basename(f.fname).lower()
        st = str(f.stretch).lower()
        narrow = ('narrow' in nm or 'narrow' in fn or 'condensed' in nm or 'condensed' in fn
                  or st in ('condensed', 'semi-condensed'))
        if not narrow or 'extra' in fn or 'ultra' in fn or 'extra' in st or 'ultra' in st:
            continue
        if 'mono' in nm or ('serif' in nm and 'sans' not in nm):
            continue
        w = f.weight if isinstance(f.weight, (int, float)) else font_manager.weight_dict.get(f.weight, 400)
        if bold and not (600 <= w <= 760):
            continue
        if not bold and not (350 <= w <= 450):
            continue
        if (f.style in ('italic', 'oblique')) != italic:
            continue
        for rank, p in enumerate(prefs):
            if nm.startswith(p) and rank < best_rank:
                best, best_rank = f.fname, rank
    return best


R_PREFS = ['liberation sans narrow', 'roboto condensed', 'liberation sans', 'roboto', 'noto sans',
           'dejavu sans', 'open sans', 'lato', 'inter']
C_PREFS = ['open sans', 'noto sans', 'lato', 'roboto', 'liberation sans', 'dejavu sans', 'inter']

FONT_FILES = {
    'r': find_narrow(R_PREFS), 'rb': find_narrow(R_PREFS, bold=True),
    'n': find_narrow(C_PREFS), 'b': find_narrow(C_PREFS, bold=True),
    'i': find_narrow(C_PREFS, italic=True),
}
FALLBACK = {'r': ('Liberation Sans', 'normal', 'normal'), 'rb': ('Liberation Sans', 'bold', 'normal'),
            'n': ('Open Sans', 'normal', 'normal'), 'b': ('Open Sans', 'bold', 'normal'),
            'i': ('Open Sans', 'normal', 'italic')}


def fp(kind, size):
    if FONT_FILES[kind]:
        return FontProperties(fname=FONT_FILES[kind], size=size)
    fam, wt, st = FALLBACK[kind]
    return FontProperties(family=[fam, 'DejaVu Sans'], weight=wt, style=st, size=size)


# ------------------------------------------------------------------
# Pomocnicze
# ------------------------------------------------------------------
fig = plt.figure(figsize=(W / 100, H / 100), dpi=100)
rend = fig.canvas.get_renderer()


def T(x, y, s, **kw):
    return fig.text(x / W, 1 - y / H, s, **kw)


def add_ax(l, t, r, b):
    return fig.add_axes([l / W, 1 - b / H, (r - l) / W, (b - t) / H])


def adv(s, prop):
    t = fig.text(0, 0, '|' + s + '|', fontproperties=prop)
    w1 = t.get_window_extent(rend).width
    t.set_text('||')
    w0 = t.get_window_extent(rend).width
    t.remove()
    return w1 - w0


def runs(x, y, segs, size, width=None, color='#111111'):
    # segs: (tekst, rodzaj czcionki, skala, podniesienie)
    if width:
        tot = sum(adv(s, fp(kind, size * k)) for s, kind, k, rise in segs)
        size = size * width / tot
    cx = x
    for s, kind, k, rise in segs:
        prop = fp(kind, size * k)
        T(cx, y - rise * size, s, va='baseline', ha='left', fontproperties=prop, color=color)
        cx += adv(s, prop)
    return size


SP = '#4d4d4d'
TXT = '#4a4a4a'


def style(ax):
    for s in ax.spines.values():
        s.set_color(SP)
        s.set_linewidth(1.0)
    ax.tick_params(axis='both', direction='out', length=4, width=0.8, colors=SP,
                   labelcolor=TXT, pad=5)


def panel(box, out, lets, lets_y, vals, fit, ylim, yticks, yticklabels, ylab, xlabs, l, t, r, b):
    seg = (r - l) / 4
    i0 = 0
    for k, cats in enumerate([breeds, sexes, diets]):
        n = len(cats)
        ax = add_ax(l + k * seg, t, l + (k + 1) * seg, b)
        stats = []
        for j in range(n):
            lo, q1, med, q3, hi = box[i0 + j]
            stats.append(dict(whislo=lo, q1=q1, med=med, q3=q3, whishi=hi, fliers=out[i0 + j]))
        ax.bxp(stats, positions=list(range(1, n + 1)), widths=0.8, capwidths=0.4, manage_ticks=False,
               boxprops=dict(color='#6a6a6a', lw=1.0),
               medianprops=dict(color='#262626', lw=2.3, solid_capstyle='butt'),
               whiskerprops=dict(color='#707070', lw=0.9, linestyle=(0, (4, 3))),
               capprops=dict(color='#555555', lw=1.0),
               flierprops=dict(marker='o', mfc='none', mec='#555555', ms=4.2, mew=0.7))
        for j in range(n):
            if lets[i0 + j]:
                ax.text(j + 1, lets_y[i0 + j], lets[i0 + j], ha='center', va='center',
                        fontproperties=fp('rb', 14), color='#1a1a1a', clip_on=False)
        ax.set_xlim(0.5 - 0.04 * n, n + 0.5 + 0.04 * n)
        ax.set_ylim(ylim)
        ax.set_xticks(list(range(1, n + 1)), cats, fontproperties=fp('r', 7.5))
        style(ax)
        if k == 0:
            ax.set_yticks(yticks, yticklabels, fontproperties=fp('r', 7.5), rotation=90, va='center')
        else:
            ax.tick_params(left=False, labelleft=False)
        T(l + (k + 0.5) * seg, b + 39, xlabs[k], ha='center', va='center',
          fontproperties=fp('r', 7.5), color=TXT)
        i0 += n

    ax = add_ax(l + 3 * seg, t, r, b)
    ax.scatter(ages, vals, s=18, facecolors='none', edgecolors='#2e2e2e', linewidths=0.6, zorder=3)
    ax.plot(fit_x, fit, color='#555555', lw=1.0, zorder=4)
    ax.set_xlim(fit_x)
    ax.set_ylim(ylim)
    ax.set_xticks(age_ticks, [str(v) for v in age_ticks], fontproperties=fp('r', 7.5))
    ax.set_yticks(yticks)
    ax.grid(color='#dcdcdc', lw=0.8)
    ax.set_axisbelow(True)
    style(ax)
    ax.tick_params(left=False, labelleft=False)
    T(l + 3.5 * seg, b + 39, xlabs[3], ha='center', va='center', fontproperties=fp('r', 7.5), color=TXT)
    T(l - 37, (t + b) / 2, ylab, rotation=90, ha='center', va='center',
      fontproperties=fp('r', 7), color=TXT)


def heading(letter, lx, x, y, segs, width):
    T(lx, y, letter, ha='center', va='baseline', fontsize=23, fontweight='bold',
      family=['Liberation Sans', 'DejaVu Sans'], color='#111111')
    runs(x, y, segs, 16, width=width)


def bold(s):
    return [(s, 'rb', 1, 0)]


# ------------------------------------------------------------------
# Panele
# ------------------------------------------------------------------
heading('a', 39, 94, 49, bold('Richness of bacterial communities (Chao1)'), 383)
panel(a_box, a_out, a_let, a_let_y, a_vals, a_fit, (27.2, 106.3), [40, 60, 80, 100],
      ['40', '60', '80', '100'], 'chao1',
      ['Breed (P<2.2e-16)', 'Sex (P=2.9e-7)', 'Diet (P<2.2e-16)', 'Age (ρ=0.20, P=2.25e-07)'],
      73, 63, 627, 304)

heading('b', 680, 739, 51, bold('Richness of archaeal communities (Chao1)'), 381)
panel(b_box, b_out, b_let, b_let_y, b_vals, b_fit, (0.74, 14.06), [2, 4, 6, 8, 10, 12, 14],
      ['2', '4', '6', '8', '10', '12', '14'], 'chao1',
      ['Breed (P<2.2e-16)', 'Sex (P=1.2e-12)', 'Diet (P<2.2e-16)', 'Age (ρ=0.05, P=0.16)'],
      716, 67, 1272, 306)

heading('c', 39, 92, 396, bold('Evenness of bacterial communities (Shannon)'), 408)
panel(c_box, c_out, c_let, c_let_y, c_vals, c_fit, (0.88, 4.03), [1.0, 1.5, 2.0, 2.5, 3.0, 3.5, 4.0],
      ['1.0', '1.5', '2.0', '2.5', '3.0', '3.5', '4.0'], 'shannon',
      ['Breed (P=4.7e-5)', 'Sex (P=0.57)', 'Diet (P=3.2e-5)', 'Age (ρ=-0.05, P=0.24)'],
      73, 413, 627, 652)

heading('d', 680, 739, 397, bold('Evenness of archaeal communities (Shannon)'), 409)
panel(d_box, d_out, d_let, d_let_y, d_vals, d_fit, (-0.098, 2.548), [0.0, 0.5, 1.0, 1.5, 2.0, 2.5],
      ['0.0', '0.5', '1.0', '1.5', '2.0', '2.5'], 'shannon',
      ['Breed (P=3.8e-7)', 'Sex (P=3.1e-7)', 'Diet (P=5.6e-15)', 'Age (ρ=0.02, P=0.70)'],
      716, 413, 1274, 652)

sup_e = [('Bacterial 16S rRNA gene copy numbers (ml', 'rb', 1, 0), ('-1', 'rb', 0.55, 0.55),
         ('; qPCR)', 'rb', 1, 0)]
heading('e', 39, 94, 747, sup_e, 461)
panel(e_box, e_out, e_let, e_let_y, e_vals, e_fit, (8.46, 12.09),
      [8.5, 9.0, 9.5, 10.0, 10.5, 11.0, 11.5, 12.0],
      ['8.5', '9.0', '9.5', '10.0', '10.5', '11.0', '11.5', '12.0'],
      'log10(Bacterial 16S rRNA gene copy number)',
      ['Breed (P=0.15)', 'Sex (P=6.6e-14)', 'Diet (P=3.3e-10)', 'Age (ρ=-0.13, P=0.001)'],
      73, 761, 627, 1000)

sup_f = [('Archaeal 16S rRNA gene copy numbers (ml', 'rb', 1, 0), ('-1', 'rb', 0.55, 0.55),
         ('; qPCR)', 'rb', 1, 0)]
heading('f', 676, 738, 747, sup_f, 461)
panel(f_box, f_out, f_let, f_let_y, f_vals, f_fit, (4.95, 9.31), [5, 6, 7, 8, 9],
      ['5', '6', '7', '8', '9'], 'log10(Archaeal 16S rRNA gene copy number)',
      ['Breed (P=2.7e-4)', 'Sex (P=3.0e-12)', 'Diet (P=4.7e-15)', 'Age (ρ=-0.02, P=0.68)'],
      721, 761, 1275, 999)

# ------------------------------------------------------------------
# Podpis
# ------------------------------------------------------------------
line1 = [('Fig. 3', 'b', 1, 0), (' Effects of breed, sex, diet, and age on the richness (', 'n', 1, 0),
         ('a', 'b', 1, 0), (', ', 'n', 1, 0), ('b', 'b', 1, 0), ('), evenness (', 'n', 1, 0),
         ('c', 'b', 1, 0), (', ', 'n', 1, 0), ('d', 'b', 1, 0), ('), and abundance (', 'n', 1, 0),
         ('e', 'b', 1, 0), (', ', 'n', 1, 0), ('f', 'b', 1, 0),
         (') of rumen bacteria and archaea. The 16S', 'n', 1, 0)]
cap_size = runs(25, 1080, line1, 14, width=1215)
line2 = [('rRNA gene copy numbers per milliliter of rumen sample were log10-transformed before '
          'statistical analysis. Values within each factor that do not', 'n', 1, 0)]
runs(25, 1104, line2, cap_size)
line3 = [('have a common superscript are significantly different (', 'n', 1, 0), ('P', 'i', 1, 0),
         (' < 0.05) according to the Kruskal-Wallis rank sum test. The correlations between age and',
          'n', 1, 0)]
runs(25, 1128, line3, cap_size)
line4 = [('other indices were calculated using the Spearman\u2019s rank correlation (', 'n', 1, 0),
         ('\u03c1', 'i', 1, 0), (' = correlation coefficient)', 'n', 1, 0)]
runs(25, 1152, line4, cap_size)

# ramka z zaokraglonymi rogami
pts = [(20, 1169), (10, 1169), (10, 1159), (10, 22), (10, 8), (24, 8), (1276, 8), (1290, 8), (1290, 22),
       (1290, 60)]
codes = [Path.MOVETO, Path.CURVE3, Path.CURVE3, Path.LINETO, Path.CURVE3, Path.CURVE3, Path.LINETO,
         Path.CURVE3, Path.CURVE3, Path.LINETO]
verts = [(x / W, 1 - y / H) for x, y in pts]
fig.patches.append(PathPatch(Path(verts, codes), transform=fig.transFigure, fill=False,
                             edgecolor='#111111', lw=1.2))

fig.savefig('out.png', dpi=100)
